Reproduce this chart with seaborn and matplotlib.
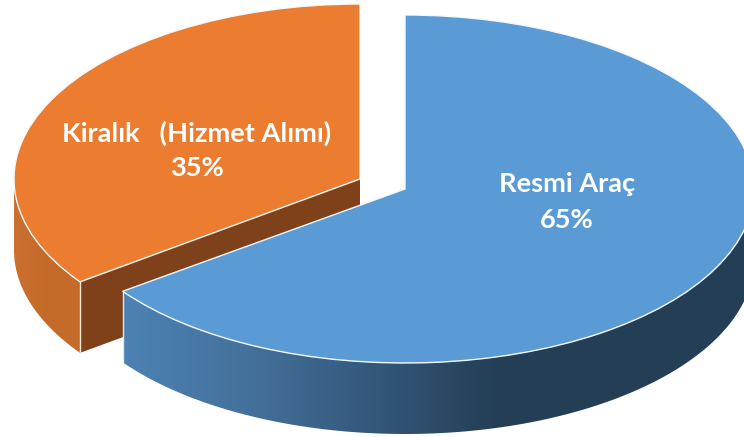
import numpy as np
import matplotlib
matplotlib.use("Agg")
import matplotlib.pyplot as plt
from matplotlib.patches import Polygon
from matplotlib.transforms import Affine2D
import seaborn as sns

# ---- data ----
categories = ["Resmi Araç", "Kiralık   (Hizmet Alımı)"]
shares = [65, 35]
pct_labels = ["65%", "35%"]

# ---- style ----
top_colors = ["#5B9BD5", "#EC7C30"]
cut_color = "#7E4119"
blue_side_stops = ["#4C82B4", "#44719B", "#34587C", "#243F55", "#243F55", "#243F55"]
orange_side_stops = ["#CB7030", "#C56B2A", "#C66C2B"]

sns.set_theme(style="white")
plt.rcParams["font.family"] = ["Lato", "DejaVu Sans"]

W, H = 744, 437
fig = plt.figure(figsize=(W / 100, H / 100), dpi=100)
fig.patch.set_facecolor("white")
ax = fig.add_axes([0, 0, 1, 1])

# layout: (cx, cy, rx, ry) of each exploded slice, in image pixels
geom = [(405, 189, 349, 174), (360, 179, 346, 175)]
depth = 71

wedges, _ = ax.pie(shares, colors=top_colors, startangle=90, counterclock=False,
                   radius=1, wedgeprops=dict(edgecolor="#F4F8FB", linewidth=1.0))


def arc(g, deg):
    t = np.radians(deg)
    return g[0] + g[2] * np.cos(t), g[1] - g[3] * np.sin(t)


def draw_side(g, t0, t1, stops, z, x_end, n=300):
    """Outer wall of a slice, between angles t0 < t1, shaded left to right."""
    ts = np.linspace(t0, t1, n + 1)
    xs, ys = arc(g, ts)
    lo = xs.min()
    verts = np.vstack([np.column_stack([xs, ys]),
                       np.column_stack([xs[::-1], ys[::-1] + depth])])
    cols = np.array(sns.blend_palette(stops, n_colors=256))[:, :3]
    img = ax.imshow(cols[np.newaxis, :, :], extent=(lo, x_end, ys.max() + depth, ys.min()),
                    aspect="auto", interpolation="bilinear", zorder=z)
    img.set_clip_path(Polygon(verts, closed=True, transform=ax.transData))


# angles of the slice boundaries follow from the shares
w_blue, w_orange = wedges
g_blue, g_orange = geom
for w, g, z in ((w_blue, g_blue, 6), (w_orange, g_orange, 4)):
    w.set_transform(Affine2D().scale(g[2], -g[3]).translate(g[0], g[1]) + ax.transData)
    w.set_zorder(z)

cut_deg = 90 - 360 * shares[0] / sum(shares)
cx0, cy0 = arc(g_orange, cut_deg)
bx0, by0 = arc(g_blue, cut_deg)

# orange slice: outer wall, cut face
draw_side(g_orange, -180, cut_deg, orange_side_stops, 1, cx0)
ax.fill([g_orange[0], cx0, cx0, g_orange[0]],
        [g_orange[1], cy0, cy0 + depth, g_orange[1] + depth],
        color=cut_color, lw=0, zorder=2)
ax.plot([cx0, cx0], [cy0, cy0 + depth], color="#F3E6DC", lw=1.0, zorder=3)

# blue slice: outer wall
draw_side(g_blue, cut_deg, 0, blue_side_stops, 5, W)
ax.plot([bx0, bx0], [by0, by0 + depth], color="#DCE8F2", lw=1.0, zorder=5.5)

ax.set_aspect("auto")
ax.set_xlim(0, W)
ax.set_ylim(H, 0)
ax.axis("off")

# labels
txt = dict(color="white", fontweight="bold", fontsize=19.6, ha="center", va="center", zorder=10)
ax.text(567, 184, categories[0], **txt)
ax.text(567, 220, pct_labels[0], **txt)
ax.text(197, 133, categories[1], **txt)
ax.text(197, 168, pct_labels[1], **txt)

fig.savefig("out.png", dpi=100, facecolor="white")
